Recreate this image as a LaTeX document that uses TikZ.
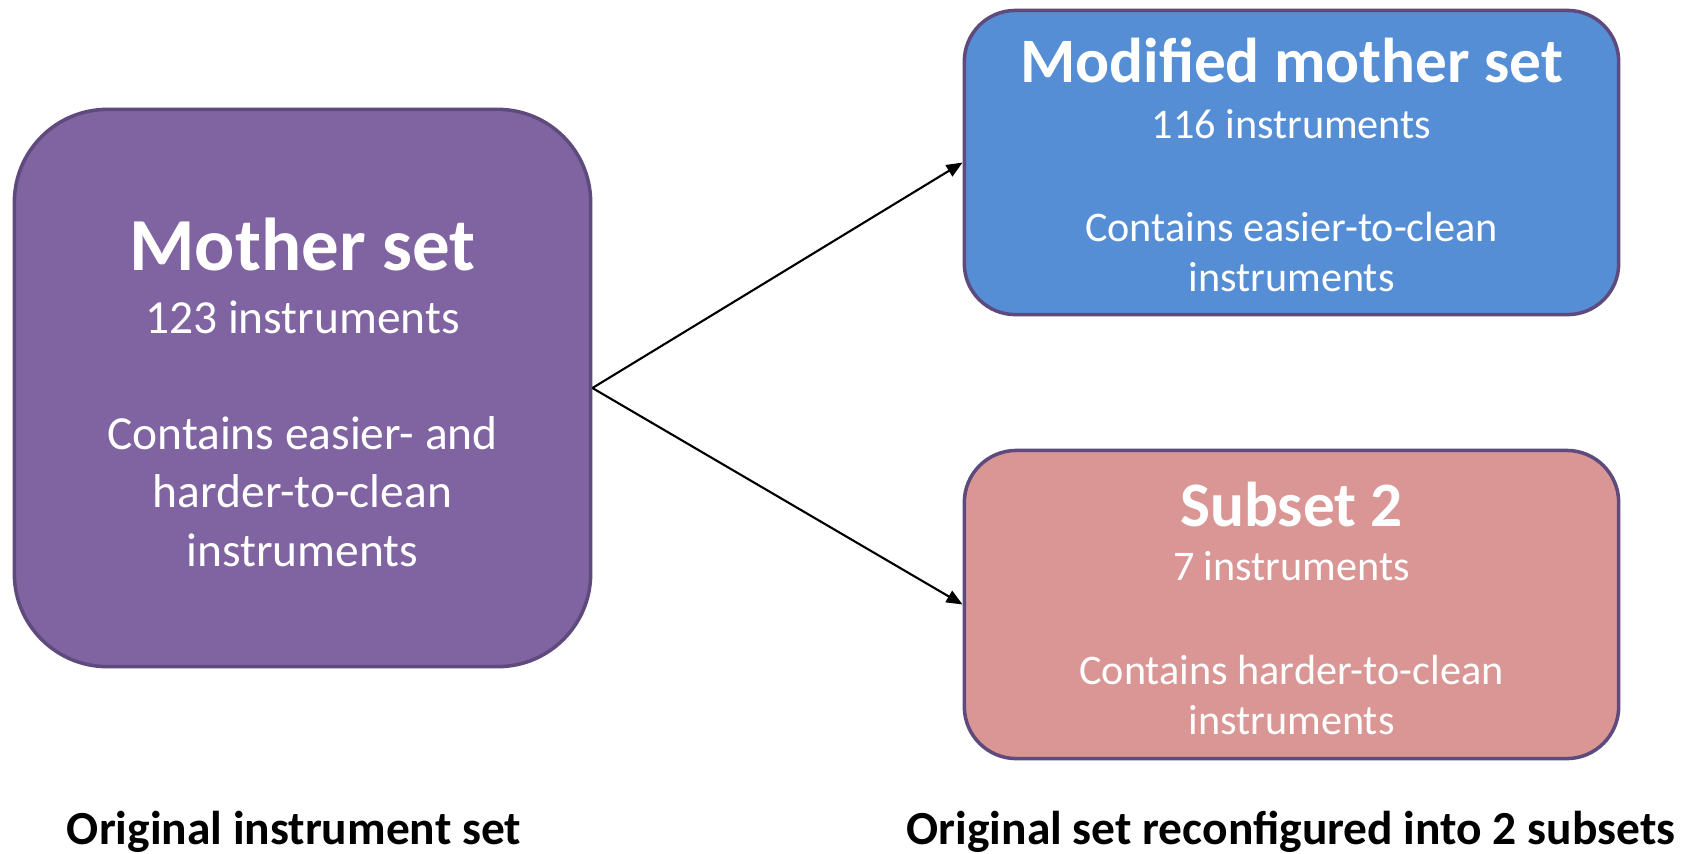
\documentclass[tikz,border=0pt]{standalone}
\usepackage{fontspec}
\setmainfont{Carlito}
\usetikzlibrary{arrows.meta}

\definecolor{setpurple}{HTML}{8064A2}
\definecolor{setblue}{HTML}{558ED5}
\definecolor{setpink}{HTML}{D99694}
\definecolor{setedge}{HTML}{5E4A7C}

\tikzset{
  setbox/.style={draw=setedge, line width=1pt, rectangle, inner sep=0pt},
  boxtext/.style={text=white, inner sep=0pt, anchor=base, align=center},
  caption/.style={text=black, inner sep=0pt, anchor=base,
    font=\fontsize{13.5}{16}\selectfont\bfseries},
  splitarrow/.style={-{Triangle[length=1.6mm,width=1.3mm]}, line width=0.6pt}
}

\begin{document}
\begin{tikzpicture}[x=0.01cm, y=-0.01cm]
\useasboundingbox (0,0) rectangle (1696,853);

% the three sets
\node[setbox, fill=setpurple, rounded corners=0.93cm,
  minimum width=5.76cm, minimum height=5.57cm] (mother) at (302.5,388) {};
\node[setbox, fill=setblue, rounded corners=0.51cm,
  minimum width=6.54cm, minimum height=3.04cm] (modified) at (1291.5,162.5) {};
\node[setbox, fill=setpink, rounded corners=0.52cm,
  minimum width=6.54cm, minimum height=3.08cm] (subset) at (1291.5,604.5) {};

% mother set text
\node[boxtext, font=\fontsize{21.3}{25}\selectfont\bfseries] (mothertitle) at (302.5,270) {Mother set};
\node[boxtext, font=\fontsize{13.5}{16.5}\selectfont] (mothercount) at (302.5,333) {123 instruments};
\node[boxtext, font=\fontsize{13.5}{16.5}\selectfont] (motherinfo) at (302.5,566)
  {Contains easier- and\\harder-to-clean\\instruments};

% modified mother set text
\node[boxtext, font=\fontsize{18}{22}\selectfont\bfseries] (modifiedtitle) at (1291.5,82) {Modified mother set};
\node[boxtext, font=\fontsize{12}{14}\selectfont] (modifiedcount) at (1291.5,138) {116 instruments};
\node[boxtext, font=\fontsize{12}{14}\selectfont] (modifiedinfo) at (1291.5,291)
  {Contains easier-to-clean\\instruments};

% subset 2 text
\node[boxtext, font=\fontsize{18}{22}\selectfont\bfseries] (subsettitle) at (1291.5,526) {Subset 2};
\node[boxtext, font=\fontsize{12}{14}\selectfont] (subsetcount) at (1291.5,580) {7 instruments};
\node[boxtext, font=\fontsize{12}{14}\selectfont] (subsetinfo) at (1291.5,734)
  {Contains harder-to-clean\\instruments};

% captions
\node[caption] (leftcaption) at (294,844) {Original instrument set};
\node[caption] (rightcaption) at (1291,844) {Original set reconfigured into 2 subsets};

\draw[splitarrow] (mother.east) -- (modified.west);
\draw[splitarrow] (mother.east) -- (subset.west);

\end{tikzpicture}
\end{document}
